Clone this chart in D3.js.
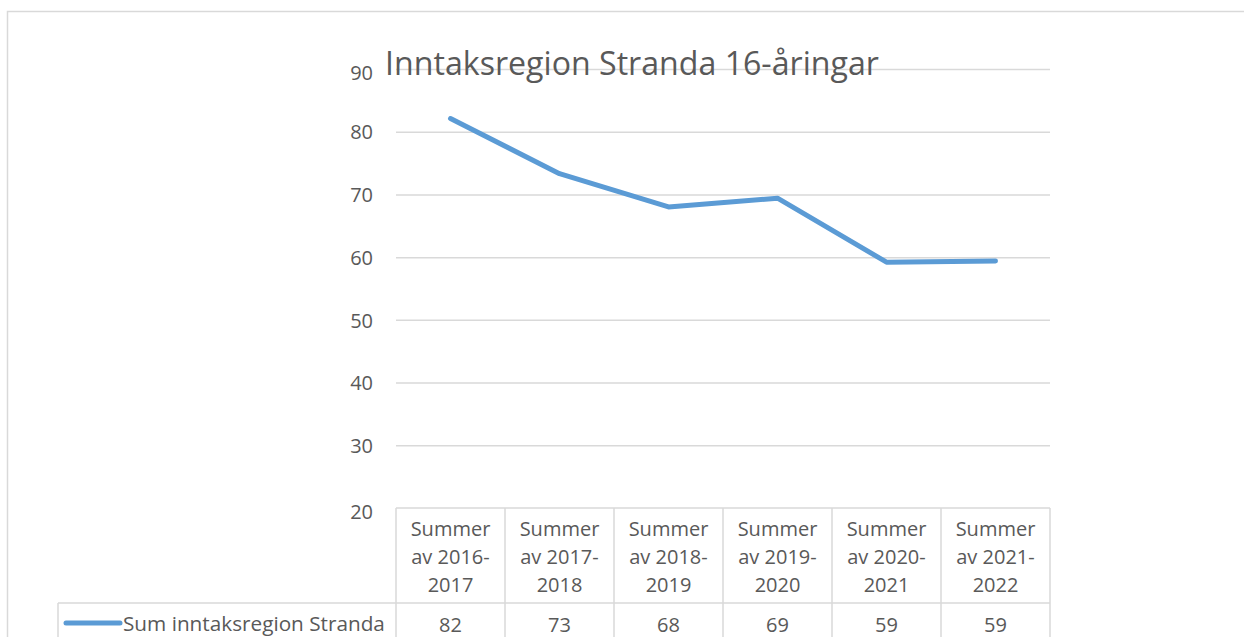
<!DOCTYPE html>
<html>
<head>
<meta charset="utf-8">
<script src="https://cdn.jsdelivr.net/npm/d3@7"></script>
<style>
    body { margin: 0; background: #fff; }
    text { font-family: "Open Sans", sans-serif; fill: #595959; }
</style>
</head>
<body>
<script>
var width = 1244,
    height = 637;

// chart data
var title = "Inntaksregion Stranda 16-åringar";
var seriesName = "Sum inntaksregion Stranda";
var categories = [
    ["Summer", "av 2016-", "2017"],
    ["Summer", "av 2017-", "2018"],
    ["Summer", "av 2018-", "2019"],
    ["Summer", "av 2019-", "2020"],
    ["Summer", "av 2020-", "2021"],
    ["Summer", "av 2021-", "2022"]
];
var values = [82.1, 73.3, 68.0, 69.4, 59.2, 59.4];
var yTicks = [20, 30, 40, 50, 60, 70, 80, 90];

// note: "top" is taken by window.top, so plotTop
var plotLeft = 396,
    plotRight = 1050,
    plotTop = 69,
    plotBottom = 508,
    headerBottom = 603,
    legendLeft = 58,
    gridColor = "#d9d9d9",
    lineColor = "#5b9bd5";

var svg = d3.select("body").append("svg")
    .attr("width", width)
    .attr("height", height);

// outer chart border
svg.append("rect")
    .attr("x", 7.5)
    .attr("y", 11.5)
    .attr("width", width + 20)
    .attr("height", height + 20)
    .style("fill", "#fff")
    .style("stroke", gridColor)
    .style("stroke-width", 1.5);

var x = d3.scaleBand()
    .domain(d3.range(categories.length))
    .range([plotLeft, plotRight]);

var y = d3.scaleLinear()
    .domain([20, 90])
    .range([plotBottom, plotTop]);

// gridlines + y labels
var yAxis = d3.axisLeft(y)
    .tickValues(yTicks)
    .tickSize(-(plotRight - plotLeft))
    .tickPadding(23)
    .tickFormat(d3.format("d"));

var yg = svg.append("g")
    .attr("transform", "translate(" + plotLeft + ",0)")
    .call(yAxis);
yg.select(".domain").remove();
yg.selectAll(".tick line")
    .style("stroke", gridColor)
    .style("stroke-width", 1.5)
    .style("display", function(d) { return d === 20 ? "none" : null; });
yg.selectAll(".tick text")
    .style("font-size", "20px")
    .style("fill", "#595959")
    .style("font-family", "'Open Sans', sans-serif")
    .attr("dy", function(d) { return d === 90 ? "0.5em" : d === 20 ? "0.5em" : "0.36em"; });

// title (drawn over the top gridline)
var t = svg.append("text")
    .attr("x", 632)
    .attr("y", 75)
    .attr("text-anchor", "middle")
    .style("font-size", "30px")
    .text(title);
fitText(t, 494);

// data table
var table = svg.append("g")
    .style("stroke", gridColor)
    .style("stroke-width", 1.5);

table.append("line")
    .attr("x1", plotLeft).attr("x2", plotRight)
    .attr("y1", plotBottom).attr("y2", plotBottom);
table.append("line")
    .attr("x1", legendLeft).attr("x2", plotRight)
    .attr("y1", headerBottom).attr("y2", headerBottom);
table.append("line")
    .attr("x1", legendLeft).attr("x2", legendLeft)
    .attr("y1", headerBottom).attr("y2", height + 5);

table.selectAll(".col")
    .data(d3.range(categories.length + 1))
    .enter().append("line")
    .attr("class", "col")
    .attr("x1", function(d) { return d < categories.length ? x(d) : plotRight; })
    .attr("x2", function(d) { return d < categories.length ? x(d) : plotRight; })
    .attr("y1", plotBottom)
    .attr("y2", height + 5);

// category labels
var cat = svg.selectAll(".cat")
    .data(categories)
    .enter().append("text")
    .attr("class", "cat")
    .attr("text-anchor", "middle")
    .style("font-size", "20px");
cat.selectAll("tspan")
    .data(function(d, i) {
        return d.map(function(s) { return { s: s, i: i }; });
    })
    .enter().append("tspan")
    .attr("x", function(d) { return x(d.i) + x.bandwidth() / 2; })
    .attr("y", function(d, j) { return 529 + j * 28; })
    .attr("dy", "0.36em")
    .text(function(d) { return d.s; });

// value row
svg.selectAll(".val")
    .data(values)
    .enter().append("text")
    .attr("class", "val")
    .attr("x", function(d, i) { return x(i) + x.bandwidth() / 2; })
    .attr("y", 625)
    .attr("dy", "0.36em")
    .attr("text-anchor", "middle")
    .style("font-size", "20px")
    .text(d3.format(".0f"));

// legend key
svg.append("line")
    .attr("x1", 66).attr("x2", 120)
    .attr("y1", 623).attr("y2", 623)
    .style("stroke", lineColor)
    .style("stroke-width", 5)
    .style("stroke-linecap", "round");
var lt = svg.append("text")
    .attr("x", 123)
    .attr("y", 624)
    .attr("dy", "0.36em")
    .style("font-size", "20px")
    .text(seriesName);
fitText(lt, 262);

// the line
var line = d3.line()
    .x(function(d, i) { return x(i) + x.bandwidth() / 2; })
    .y(function(d) { return y(d); });

svg.append("path")
    .datum(values)
    .attr("d", line)
    .style("fill", "none")
    .style("stroke", lineColor)
    .style("stroke-width", 5)
    .style("stroke-linecap", "round")
    .style("stroke-linejoin", "round");

function fitText(sel, w) {
    var size = parseFloat(sel.style("font-size"));
    var len = sel.node().getComputedTextLength();
    if (len > 0) sel.style("font-size", (size * w / len) + "px");
}
</script>
</body>
</html>
